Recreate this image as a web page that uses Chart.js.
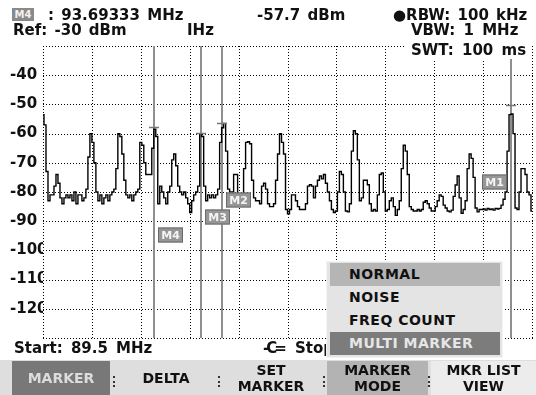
<!DOCTYPE html>
<html><head><meta charset="utf-8">
<script src="https://cdn.jsdelivr.net/npm/chart.js@4"></script>
<style>
html,body{margin:0;padding:0;background:#fff;}
#wrap{position:relative;width:536px;height:395px;overflow:hidden;font-family:'DejaVu Sans',sans-serif;font-weight:bold;color:#111;}
canvas{position:absolute;left:0;top:0;}
.t{position:absolute;white-space:nowrap;font-size:15px;line-height:15px;word-spacing:2px;}
.box{position:absolute;}
.key{position:absolute;top:361px;height:34px;font-size:14px;line-height:16px;text-align:center;display:flex;flex-direction:column;justify-content:center;}
.sep{position:absolute;top:376px;height:11px;border-left:2px dotted #333;}
.mi{position:absolute;left:3px;width:170px;height:23px;font-size:14px;line-height:23px;padding-left:19px;box-sizing:border-box;letter-spacing:0.5px;}
</style></head>
<body><div id="wrap">
<canvas id="c" width="536" height="395"></canvas>
<div class="box" style="left:12px;top:8px;width:22px;height:13px;background:#8a8a8a;color:#f2f2f2;font-size:10px;line-height:13px;text-align:center;">M4</div>
<div class="t" style="left:48px;top:8px;">: 93.69333 MHz</div>
<div class="t" style="left:257px;top:8px;">-57.7 dBm</div>
<div class="t" style="left:393px;top:8px;">●RBW: 100 kHz</div>
<div class="t" style="left:13px;top:23px;">Ref: -30 dBm</div>
<div class="t" style="left:187px;top:23px;">IHz</div>
<div class="t" style="left:411px;top:23px;word-spacing:3px;">VBW: 1 MHz</div>
<div class="t" style="left:406px;top:40px;width:126px;height:19px;background:#fff;padding:3px 0 0 5px;box-sizing:border-box;word-spacing:3px;">SWT: 100 ms</div>
<div class="t" style="left:14px;top:341px;word-spacing:3px;">Start: 89.5 MHz</div>
<div class="t" style="left:263px;top:341px;letter-spacing:-3px;">-C=</div>
<div class="t" style="left:295px;top:341px;">Stop: 108 MHz</div>
<div class="box" style="left:326px;top:261px;width:177px;height:97px;background:#e4e4e4;border:1px solid #f4f4f4;box-sizing:border-box;">
  <div class="mi" style="top:1px;background:#b5b5b5;">NORMAL</div>
  <div class="mi" style="top:24px;">NOISE</div>
  <div class="mi" style="top:47px;">FREQ COUNT</div>
  <div class="mi" style="top:70px;background:#7c7c7c;color:#e6e6e6;">MULTI MARKER</div>
</div>
<div class="box" style="left:0;top:360px;width:536px;height:35px;background:#dedede;"></div>
<div class="key" style="left:12px;width:98px;background:#787878;color:#dcdcdc;">MARKER</div>
<div class="sep" style="left:113px;"></div>
<div class="key" style="left:116px;width:100px;">DELTA</div>
<div class="sep" style="left:218px;"></div>
<div class="key" style="left:221px;width:100px;">SET<br>MARKER</div>
<div class="sep" style="left:323px;"></div>
<div class="key" style="left:327px;width:101px;background:#b3b3b3;">MARKER<br>MODE</div>
<div class="sep" style="left:428px;"></div>
<div class="key" style="left:431px;width:105px;background:#ececec;">MKR LIST<br>VIEW</div>
</div>
<script>
const startMHz = 89.5;
const stopMHz = 108;
const refLevel = -30;
const bottomLevel = -130;
const yTickLabels = ['-40','-50','-60','-70','-80','-90','-100','-110','-120'];
const traceLevels = [
 -53.5,-57,-73,-83,-81,-81,-78,-74,-77,-82,
 -84,-82,-81,-82,-81,-83,-80,-84,-81,-81,
 -83,-82,-79,-68,-60,-63,-70,-80,-83,-81,
 -84,-82,-81,-83,-81,-80,-79,-72,-60,-61,
 -67,-76,-81,-82,-81,-83,-81,-80,-79,-63,
 -64,-70,-74,-74,-74,-65,-58.5,-61,-84,-78,
 -80,-82,-84,-80,-78,-69,-67,-71,-78,-80,
 -81,-80,-82,-84,-87,-83,-81,-80,-78,-60,
 -61,-78,-83,-81,-82,-81,-82,-81,-79,-63,
 -58,-56.5,-66,-79,-80,-80,-74,-74,-82,-81,
 -81,-72,-63,-62.8,-63.5,-76,-82,-83,-83,-84,
 -78,-77,-79,-84,-85,-85,-84,-76,-67,-60,
 -63,-67,-86,-87.5,-86,-81,-81,-83,-85,-86,
 -86,-86,-84,-78,-77.5,-78,-82,-78,-76,-74.5,
 -75.5,-74,-77,-80,-83,-86,-87,-86.5,-80,-73,
 -74,-80,-86.5,-86.8,-84,-66,-59,-60,-69,-83,
 -82,-76,-76,-77.5,-84,-86.5,-86,-86.5,-81,-74,
 -73.5,-80,-86.5,-86,-83,-82,-85,-88,-86,-83,
 -72,-64,-66,-74,-85,-86,-86.5,-86.5,-86,-86.5,
 -86,-83.5,-83,-84,-85.5,-86.5,-86.5,-85,-83,-81,
 -81.5,-84.5,-85.5,-86.5,-86.8,-86.2,-81.5,-77.6,-74.5,-82,
 -87.3,-86,-83,-72,-67,-68.5,-75,-85.5,-86.8,-86,
 -86,-85.8,-86.2,-85.6,-86,-85.8,-86.2,-85.6,-85.8,-85.6,
 -84.5,-82.5,-80,-66,-53.5,-53.3,-60,-85.5,-86,-80,
 -72,-72,-74,-80,-81,-86.5
];
const markerNames = ['M1','M2','M3','M4'];
const markerFreqs = [107.207, 96.258, 95.465, 93.69333];
const markerLevels = [-50.2, -56.4, -59.8, -57.7];
const markerLabelLevels = [-76.7, -82.7, -88.7, -94.7];

const sweepStep = (stopMHz - startMHz) / (traceLevels.length - 1);
const tracePoints = traceLevels.map((v, i) => ({x: startMHz + i * sweepStep, y: v}));

const dottedGrid = {
  id: 'dottedGrid',
  beforeDatasetsDraw(chart) {
    const {ctx, chartArea: a, scales: {x, y}} = chart;
    ctx.save();
    ctx.fillStyle = '#000';
    const l = Math.round(a.left), r = Math.round(a.right), t = Math.round(a.top), b = Math.round(a.bottom);
    y.ticks.forEach(tk => {
      const py = Math.round(y.getPixelForValue(tk.value));
      for (let px = l; px <= r; px += 3) ctx.fillRect(px, py, 1, 1);
    });
    x.ticks.forEach(tk => {
      const px = Math.round(x.getPixelForValue(tk.value));
      for (let py = t; py <= b; py += 3) ctx.fillRect(px, py, 1, 1);
    });
    ctx.restore();
  }
};

const markerPlugin = {
  id: 'markers',
  beforeDatasetsDraw(chart) {
    const {ctx, chartArea: a, scales: {x}} = chart;
    ctx.save();
    ctx.strokeStyle = '#8f8f8f';
    ctx.lineWidth = 2;
    markerFreqs.forEach(f => {
      const px = Math.round(x.getPixelForValue(f));
      ctx.beginPath(); ctx.moveTo(px, a.top); ctx.lineTo(px, a.bottom); ctx.stroke();
    });
    ctx.restore();
  },
  afterDatasetsDraw(chart) {
    const {ctx, chartArea: a, scales: {x, y}} = chart;
    ctx.save();
    markerFreqs.forEach((f, i) => {
      const px = Math.round(x.getPixelForValue(f));
      const py = Math.round(y.getPixelForValue(markerLevels[i])) + 0.5;
      ctx.strokeStyle = '#777';
      ctx.lineWidth = 1.5;
      ctx.beginPath(); ctx.moveTo(px - 5, py); ctx.lineTo(px + 5, py); ctx.stroke();
      const w = 25, h = 15;
      const cy = Math.round(y.getPixelForValue(markerLabelLevels[i]));
      let bx = px + 4;
      if (bx + w > a.right - 15) bx = px - 4 - w;
      ctx.fillStyle = '#969696';
      ctx.fillRect(bx, cy - h / 2, w, h);
      ctx.strokeStyle = '#6a6a6a';
      ctx.lineWidth = 1;
      ctx.strokeRect(bx + 0.5, cy - h / 2 + 0.5, w - 1, h - 1);
      ctx.fillStyle = '#f4f4f4';
      ctx.font = 'bold 11px "DejaVu Sans"';
      ctx.textAlign = 'center';
      ctx.textBaseline = 'middle';
      ctx.fillText(markerNames[i], bx + w / 2, cy + 1);
    });
    ctx.restore();
  }
};

new Chart(document.getElementById('c'), {
  type: 'line',
  data: {datasets: [{
    data: tracePoints,
    borderColor: '#000',
    borderWidth: 1.4,
    pointRadius: 0,
    stepped: 'middle',
    fill: false
  }]},
  options: {
    responsive: false,
    animation: false,
    devicePixelRatio: 1,
    layout: {padding: {left: 10, top: 46, right: 4, bottom: 57}},
    plugins: {legend: {display: false}, tooltip: {enabled: false}},
    scales: {
      x: {
        type: 'linear', min: startMHz, max: stopMHz,
        ticks: {display: false, stepSize: (stopMHz - startMHz) / 10},
        grid: {display: false, drawTicks: false},
        border: {display: false},
        afterFit(s) { s.height = 0; }
      },
      y: {
        min: bottomLevel, max: refLevel,
        ticks: {
          stepSize: 10, crossAlign: 'far', padding: 0, color: '#111',
          font: {family: 'DejaVu Sans', weight: 'bold', size: 15},
          callback: v => yTickLabels.includes(String(v)) ? String(v) : ''
        },
        grid: {display: false, drawTicks: false},
        border: {display: false},
        afterFit(s) { s.width = 33; }
      }
    }
  },
  plugins: [dottedGrid, markerPlugin]
});
</script>
</body></html>
